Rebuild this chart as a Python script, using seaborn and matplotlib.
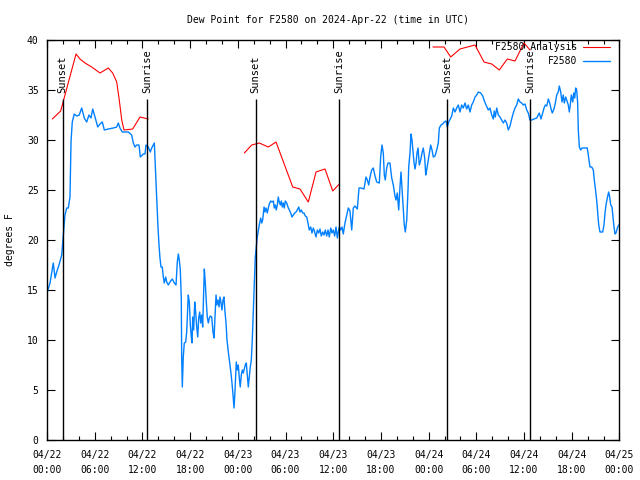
import numpy as np
import pandas as pd
import matplotlib
matplotlib.use("Agg")
import matplotlib.pyplot as plt
import matplotlib.dates as mdates
import seaborn as sns

# --- Data (hours after 2024-04-22 00:00 UTC, dew point in F) ---
start = pd.Timestamp("2024-04-22 00:00")

obs_hours = [
    0.00, 0.38, 0.79, 1.01, 1.22, 1.51, 1.85, 2.05, 2.26, 2.48, 2.68, 2.89, 3.02, 3.18, 3.43,
    3.74, 4.06, 4.36, 4.69, 4.99, 5.28, 5.53, 5.75, 6.04, 6.38, 6.67, 6.96, 7.21, 7.71, 8.34,
    8.77, 8.97, 9.18, 9.47, 10.23, 10.65, 10.86, 11.07, 11.28, 11.57, 11.74, 12.11, 12.33, 12.45,
    12.74, 12.99, 13.17, 13.50, 13.58, 13.71, 13.84, 13.96, 14.09, 14.21, 14.34, 14.50, 14.63,
    14.75, 14.93, 15.06, 15.26, 15.47, 15.76, 16.01, 16.23, 16.39, 16.52, 16.64, 16.77, 16.89,
    16.94, 17.02, 17.14, 17.27, 17.45, 17.57, 17.70, 17.77, 17.90, 18.03, 18.15, 18.24, 18.33,
    18.45, 18.58, 18.70, 18.83, 18.96, 19.08, 19.21, 19.33, 19.46, 19.58, 19.71, 19.79, 19.91,
    20.04, 20.16, 20.29, 20.42, 20.54, 20.72, 20.88, 21.01, 21.13, 21.26, 21.38, 21.51, 21.64,
    21.76, 21.89, 22.01, 22.14, 22.26, 22.39, 22.52, 22.64, 22.81, 22.98, 23.14, 23.27, 23.40,
    23.52, 23.61, 23.69, 23.81, 23.94, 24.06, 24.19, 24.31, 24.44, 24.57, 24.69, 24.82, 24.94,
    25.07, 25.19, 25.32, 25.45, 25.57, 25.70, 25.82, 25.95, 26.08, 26.20, 26.33, 26.45, 26.70,
    26.88, 27.01, 27.13, 27.30, 27.42, 27.55, 27.71, 27.84, 27.96, 28.14, 28.30, 28.47, 28.59,
    28.72, 28.84, 28.97, 29.09, 29.22, 29.35, 29.47, 29.60, 29.72, 29.85, 29.97, 30.15, 30.31,
    30.48, 30.65, 30.82, 30.98, 31.16, 31.32, 31.48, 31.66, 31.82, 31.99, 32.16, 32.33, 32.49,
    32.67, 32.83, 32.99, 33.17, 33.33, 33.50, 33.67, 33.84, 34.00, 34.18, 34.34, 34.50, 34.68,
    34.84, 35.01, 35.18, 35.35, 35.51, 35.69, 35.85, 36.01, 36.19, 36.35, 36.52, 36.64, 36.77,
    36.94, 37.11, 37.27, 37.48, 37.70, 37.90, 38.11, 38.33, 38.53, 38.74, 39.03, 39.25, 39.50,
    39.87, 40.13, 40.29, 40.47, 40.63, 40.84, 41.04, 41.26, 41.47, 41.80, 41.97, 42.14, 42.30,
    42.43, 42.55, 42.73, 42.89, 43.14, 43.36, 43.56, 43.77, 43.90, 44.06, 44.24, 44.40, 44.53,
    44.65, 44.82, 44.94, 45.07, 45.25, 45.41, 45.50, 45.66, 45.79, 45.91, 46.04, 46.16, 46.29,
    46.42, 46.54, 46.67, 46.83, 47.01, 47.17, 47.33, 47.51, 47.64, 47.76, 47.92, 48.09, 48.26,
    48.43, 48.59, 48.81, 49.02, 49.22, 49.35, 49.56, 49.77, 49.97, 50.19, 50.35, 50.53, 50.91,
    51.11, 51.32, 51.53, 51.74, 51.95, 52.16, 52.36, 52.58, 52.79, 52.99, 53.21, 53.42, 53.62,
    53.84, 54.05, 54.25, 54.55, 54.81, 54.97, 55.22, 55.51, 55.72, 55.94, 56.14, 56.26, 56.39,
    56.57, 56.77, 56.98, 57.19, 57.40, 57.61, 57.82, 58.03, 58.24, 58.45, 58.65, 58.87, 59.08,
    59.28, 59.50, 59.71, 59.91, 60.13, 60.34, 60.54, 60.75, 60.97, 61.26, 61.60, 61.92, 62.14,
    62.35, 62.52, 62.68, 62.86, 63.06, 63.27, 63.40, 63.56, 63.77, 63.94, 64.11, 64.31, 64.44,
    64.62, 64.78, 64.94, 65.07, 65.25, 65.37, 65.57, 65.70, 65.82, 65.95, 66.13, 66.25, 66.38,
    66.50, 66.63, 66.75, 66.83, 66.96, 67.13, 67.30, 67.96, 68.14, 68.30, 68.52, 68.72, 68.84,
    68.97, 69.14, 69.27, 69.40, 69.56, 69.90, 70.06, 70.19, 70.31, 70.48, 70.65, 70.78, 70.91,
    71.07, 71.19, 71.32, 71.45, 71.57, 71.74, 71.91,
]
obs_dewpt = [
    14.7, 15.7, 17.7, 16.2, 16.8, 17.5, 18.5, 20.5, 22.5, 23.2, 23.2, 24.3, 29.8, 31.8, 32.6,
    32.4, 32.5, 33.2, 32.2, 31.8, 32.5, 32.2, 33.1, 32.3, 31.3, 31.6, 31.8, 31.0, 31.1, 31.2,
    31.3, 31.7, 31.2, 30.8, 30.8, 30.5, 29.7, 29.3, 29.5, 29.5, 28.3, 28.6, 28.6, 29.5,
    29.3, 28.8, 29.2, 29.7, 28.3, 25.8, 23.5, 21.3, 19.5, 18.2, 17.3, 17.3, 16.3,
    15.7, 16.3, 15.8, 15.5, 15.8, 16.1, 15.7, 15.5, 17.8, 18.6, 18.0, 17.0, 14.2,
    8.3, 5.3, 8.3, 9.7, 9.8, 10.8, 13.3, 14.5, 13.8, 11.5, 10.3, 9.7, 12.3,
    11.0, 13.8, 12.8, 11.3, 10.3, 12.2, 12.8, 11.7, 12.5, 11.3, 15.0, 17.1, 15.7,
    13.8, 12.3, 11.7, 12.2, 12.4, 12.3, 10.8, 10.2, 12.3, 14.5, 13.5, 14.0, 13.3,
    14.3, 13.7, 13.0, 14.0, 14.3, 12.8, 11.7, 10.0, 8.8, 7.7, 6.7, 5.7, 4.5,
    3.2, 4.3, 5.7, 7.8, 7.0, 7.5, 6.2, 5.3, 6.5, 7.0, 6.7, 7.1, 7.5,
    7.7, 6.5, 5.3, 6.3, 7.3, 8.0, 10.0, 13.0, 15.7, 18.3, 19.3, 20.3, 21.5,
    22.2, 21.7, 22.0, 23.3, 22.8, 23.2, 22.7, 23.2, 23.6, 23.9, 23.8, 23.9, 23.2,
    23.5, 23.0, 23.5, 24.3, 23.8, 23.5, 23.9, 23.3, 23.7, 23.2, 23.9, 23.7, 23.3,
    23.0, 22.7, 22.3, 22.5, 22.7, 22.8, 23.0, 23.3, 22.8, 23.0, 22.7, 22.7, 22.4,
    22.3, 21.7, 21.0, 21.3, 20.7, 21.2, 20.8, 20.3, 21.0, 20.7, 21.1, 20.4, 20.8,
    20.5, 21.0, 20.4, 21.0, 20.3, 21.2, 20.7, 21.0, 20.4, 21.3, 20.2, 20.8, 21.3,
    21.0, 21.3, 20.6, 21.7, 22.5, 23.2, 22.9, 21.0, 23.2, 23.4, 23.1, 25.2, 25.2,
    25.1, 26.3, 26.0, 25.5, 26.3, 27.0, 27.2, 26.4, 25.8, 25.7, 28.3, 29.5, 28.7,
    26.5, 26.0, 27.2, 27.7, 27.7, 26.2, 25.5, 24.4, 24.0, 24.7, 23.0, 25.3, 26.8,
    25.3, 23.2, 21.5, 20.8, 22.0, 25.0, 27.3, 28.7, 30.6, 30.0, 28.8, 27.8, 27.1,
    27.7, 28.7, 29.2, 27.5, 28.0, 28.7, 29.2, 28.2, 26.5, 27.0, 27.8, 28.7, 29.5,
    29.0, 28.3, 28.4, 29.0, 29.7, 31.2, 31.5, 31.6, 31.8, 31.9, 31.3, 31.8, 32.4,
    33.2, 32.8, 33.2, 33.5, 32.8, 33.5, 33.2, 33.7, 33.1, 33.5, 32.8, 33.5, 33.8,
    34.3, 34.5, 34.8, 34.7, 34.4, 34.0, 33.5, 33.0, 33.2, 32.5, 32.1, 32.9, 32.3,
    33.2, 32.5, 32.3, 32.0, 31.7, 32.0, 31.7, 31.0, 31.4, 32.1, 32.7, 33.2, 33.5,
    34.1, 33.8, 33.7, 33.5, 33.6, 33.0, 32.7, 32.0, 32.0, 32.1, 32.2, 32.7, 32.1,
    32.7, 33.2, 33.5, 33.4, 34.1, 33.6, 33.1, 32.7, 33.1, 33.7, 34.5, 34.8, 35.4,
    34.8, 33.8, 34.5, 33.7, 34.3, 34.0, 33.5, 32.8, 33.5, 34.5, 33.8, 34.7, 34.2,
    35.2, 35.0, 33.7, 31.0, 29.3, 29.0, 29.2, 29.2, 28.2, 27.3, 27.3, 27.0, 26.0,
    25.2, 24.0, 22.7, 21.5, 20.8, 20.8, 21.5, 22.7, 23.5, 24.2, 24.8, 24.3, 23.5,
    23.3, 22.3, 21.3, 20.6, 20.7, 21.2, 21.5,
]

ana_hours = [
    0.67, 1.72, 3.65, 4.15, 4.78, 5.62, 6.67, 7.71, 8.26, 8.77, 9.09, 9.40, 9.69, 10.78, 11.70, 12.74,
    24.82, 25.75, 26.70, 27.84, 28.81, 30.91, 31.82, 32.87, 33.84, 34.97, 35.94, 36.77,
    48.55, 49.94, 50.78, 51.95, 53.84, 54.97, 55.94, 56.89, 57.90, 58.87, 60.00, 60.75,
]
ana_dewpt = [
    32.1, 32.9, 38.6, 38.1, 37.7, 37.3, 36.7, 37.2, 36.7, 35.8, 34.0, 32.0, 31.0, 31.1, 32.3, 32.1,
    28.7, 29.5, 29.7, 29.3, 29.8, 25.3, 25.1, 23.8, 26.8, 27.1, 24.9, 25.6,
    39.3, 39.3, 38.3, 39.1, 39.5, 37.8, 37.6, 37.0, 38.1, 37.9, 39.7, 39.0,
]
ana_run = [1] * 16 + [2] * 12 + [3] * 12

sunset_hours = [1.97, 26.25, 50.35]
sunrise_hours = [12.62, 36.77, 60.75]

obs = pd.DataFrame({"time": start + pd.to_timedelta(obs_hours, unit="h"), "dewpt": obs_dewpt})
ana = pd.DataFrame({"time": start + pd.to_timedelta(ana_hours, unit="h"),
                    "dewpt": ana_dewpt, "run": ana_run})

# --- Plot ---
sns.set_style("ticks")
plt.rcParams["font.family"] = ["DejaVu Sans Mono"]
plt.rcParams["font.size"] = 7
for key in ["text.color", "axes.labelcolor", "xtick.color", "ytick.color", "axes.edgecolor"]:
    plt.rcParams[key] = "black"

fig = plt.figure(figsize=(6.4, 4.8), dpi=100)
ax = fig.add_axes([47 / 640, 40 / 480, 572.4 / 640, 400 / 480])

sns.lineplot(data=ana, x="time", y="dewpt", units="run", estimator=None, sort=False,
             color="#ff0000", linewidth=0.8, label="F2580 Analysis", ax=ax)
sns.lineplot(data=obs, x="time", y="dewpt", estimator=None,
             color="#0080ff", linewidth=1.0, label="F2580", ax=ax)

ymax = 40
ax.set_ylim(0, ymax)
ax.set_xlim(start, start + pd.Timedelta(hours=72))

# sunrise / sunset markers
for name, hrs in [("Sunset", sunset_hours), ("Sunrise", sunrise_hours)]:
    for h in hrs:
        t = start + pd.Timedelta(hours=h)
        ax.vlines(t, 0, 0.853 * ymax, color="black", linewidth=1.0)
        ax.text(t, 0.868 * ymax, name, rotation=90, ha="center", va="bottom", fontsize=7.5)

ax.xaxis.set_major_locator(mdates.HourLocator(byhour=[0, 6, 12, 18]))
ax.xaxis.set_minor_locator(mdates.HourLocator(byhour=range(0, 24, 2)))
ax.xaxis.set_major_formatter(mdates.DateFormatter("%m/%d\n%H:%M"))
ax.set_yticks(range(0, 41, 5))
ax.tick_params(which="both", direction="in", top=True, right=True, width=0.8, labelsize=7)
ax.tick_params(which="major", length=6)
ax.tick_params(which="minor", length=3)
ax.tick_params(axis="x", pad=7)
ax.tick_params(axis="y", pad=6)
for lbl in ax.get_xticklabels():
    lbl.set_linespacing(1.6)
for s in ax.spines.values():
    s.set_linewidth(1.0)

ax.set_xlabel("")
ax.set_ylabel("degrees F", fontsize=7)
ax.yaxis.set_label_coords(-0.056, 0.5)
fig.text(328 / 640, 1 - 20 / 480, "Dew Point for F2580 on 2024-Apr-22 (time in UTC)",
         ha="center", va="center", fontsize=7)

handles, labels = ax.get_legend_handles_labels()
uniq = dict(zip(labels, handles))
ax.legend(uniq.values(), uniq.keys(), loc="upper right", bbox_to_anchor=(0.984, 0.995),
          frameon=False, markerfirst=False, handlelength=2.8, handletextpad=0.6,
          borderpad=0, borderaxespad=0, labelspacing=0.45, fontsize=7)

fig.savefig("out.png", dpi=100)
